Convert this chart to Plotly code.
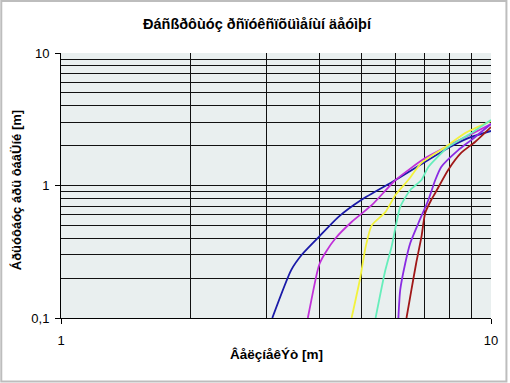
import plotly.graph_objects as go

# Data (x: Βεληνεκές [m], y: απόσταση από ταβάνι [m])
blue_x = [3.10, 3.43, 3.63, 3.98, 4.42, 5.00, 6.00, 7.95, 8.85, 10.0]
blue_y = [0.10, 0.23, 0.30, 0.41, 0.58, 0.78, 1.10, 1.92, 2.28, 2.58]

magenta_x = [3.75, 3.94, 4.00, 4.13, 4.35, 4.74, 5.28, 6.00, 7.03, 7.95, 10.0]
magenta_y = [0.10, 0.22, 0.26, 0.315, 0.40, 0.53, 0.71, 1.10, 1.61, 1.99, 2.91]

yellow_x = [4.74, 4.97, 5.11, 5.28, 5.68, 6.00, 6.42, 6.89, 7.83, 8.71, 10.0]
yellow_y = [0.10, 0.204, 0.343, 0.50, 0.63, 0.85, 1.10, 1.48, 1.95, 2.49, 3.07]

green_x = [5.39, 5.68, 5.87, 6.00, 6.15, 6.49, 6.89, 7.15, 7.95, 8.85, 10.0]
green_y = [0.10, 0.23, 0.343, 0.486, 0.69, 0.925, 1.10, 1.38, 1.95, 2.40, 3.12]

purple_x = [6.09, 6.15, 6.32, 6.49, 6.78, 7.15, 7.42, 7.66, 8.39, 8.99, 10.0]
purple_y = [0.10, 0.163, 0.26, 0.368, 0.521, 0.777, 1.10, 1.38, 1.85, 2.20, 2.91]

red_x = [6.36, 6.53, 6.70, 6.89, 7.03, 7.26, 7.42, 7.95, 8.52, 9.18, 10.0]
red_y = [0.10, 0.163, 0.26, 0.409, 0.62, 0.777, 0.878, 1.31, 1.76, 2.13, 2.76]

series = [
    (blue_x, blue_y, "#1A1AA8"),
    (magenta_x, magenta_y, "#C030D8"),
    (yellow_x, yellow_y, "#F2F23C"),
    (green_x, green_y, "#66EEBB"),
    (purple_x, purple_y, "#8A2BE2"),
    (red_x, red_y, "#A01818"),
]

title_text = "Ðáñßðôùóç ðñïóêñïõüìåíùí äåóìþí"
x_title = "ÂåëçíåêÝò [m]"
y_title = "Áðüóôáóç áðü ôáâÜíé [m]"

x_major = [1, 10]
x_minor = [2, 3, 4, 5, 6, 7, 8, 9]
y_major = [0.1, 1, 10]
y_major_text = ["0,1", "1", "10"]
y_minor = [0.2, 0.3, 0.4, 0.5, 0.6, 0.7, 0.8, 0.9, 2, 3, 4, 5, 6, 7, 8, 9]

fig = go.Figure()
for xs, ys, c in series:
    fig.add_trace(go.Scatter(x=xs, y=ys, mode="lines",
                             line=dict(color=c, width=1.8, shape="spline", smoothing=0.6),
                             showlegend=False, cliponaxis=True))

font = "Liberation Sans, Arial, sans-serif"
L, R, T, B = 61, 17, 53, 65
W, H = 510, 383
pw, ph = W - L - R, H - T - B

fig.update_layout(
    width=W, height=H,
    margin=dict(l=L, r=R, t=T, b=B, pad=0),
    paper_bgcolor="white",
    plot_bgcolor="#E9EFEF",
    font=dict(family=font, size=13, color="black"),
    xaxis=dict(type="log", range=[0, 1], tickvals=x_major, ticktext=["1", "10"],
               showgrid=True, gridcolor="#111111", gridwidth=1.2,
               ticks="outside", ticklen=5, tickcolor="black", ticklabelstandoff=5,
               showline=True, linecolor="black", linewidth=1,
               zeroline=False, mirror=False,
               minor=dict(tickvals=x_minor, showgrid=True, gridcolor="#111111", gridwidth=1.2, ticks="")),
    yaxis=dict(type="log", range=[-1, 1], tickvals=y_major, ticktext=y_major_text,
               showgrid=True, gridcolor="#111111", gridwidth=1.2,
               ticks="outside", ticklen=5, tickcolor="black", ticklabelstandoff=3,
               showline=True, linecolor="black", linewidth=1,
               zeroline=False, mirror=False,
               minor=dict(tickvals=y_minor, showgrid=True, gridcolor="#111111", gridwidth=1.2, ticks="")),
)

def px_to_paper(px, py):
    return (px - L) / pw, (H - B - py) / ph

tx, ty = px_to_paper(258, 24)
xx, xy = px_to_paper(277, 354)
yx, yy = px_to_paper(16, 190)
fig.add_annotation(text="<b>" + title_text + "</b>", x=tx, y=ty, xref="paper", yref="paper",
                   showarrow=False, font=dict(size=14.5, family=font), xanchor="center", yanchor="middle")
fig.add_annotation(text="<b>" + x_title + "</b>", x=xx, y=xy, xref="paper", yref="paper",
                   showarrow=False, font=dict(size=13.5, family=font), xanchor="center", yanchor="middle")
fig.add_annotation(text="<b>" + y_title + "</b>", x=yx, y=yy, xref="paper", yref="paper",
                   showarrow=False, font=dict(size=13, family=font), textangle=-90,
                   xanchor="center", yanchor="middle")

# outer gray frame of the picture
x0, y0 = px_to_paper(1, 1)
x1, y1 = px_to_paper(508.5, 381.5)
fig.add_shape(type="rect", xref="paper", yref="paper", x0=x0, y0=y1, x1=x1, y1=y0,
              line=dict(color="#BDBDBD", width=2), layer="above")

fig.write_html("out.html")
